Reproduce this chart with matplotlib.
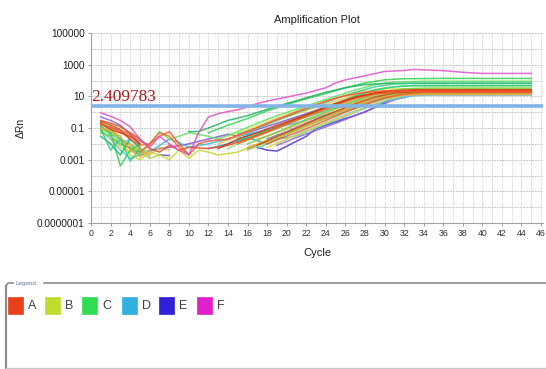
import numpy as np
import matplotlib
matplotlib.use("Agg")
import matplotlib.pyplot as plt
from matplotlib.patches import Rectangle

plt.rcParams['font.family'] = ['Liberation Sans', 'DejaVu Sans']

# ---------------- data ----------------
title = "Amplification Plot"
x_label = "Cycle"
y_label = "ΔRn"
threshold = 2.409783
threshold_label = "2.409783"
x_ticks = list(range(0, 47, 2))
y_ticks = [1e5, 1e3, 10, 0.1, 0.001, 1e-5, 1e-7]
y_tick_labels = ["100000", "1000", "10", "0.1", "0.001", "0.00001", "0.0000001"]
legend_labels = ["A", "B", "C", "D", "E", "F"]
legend_colors = ["#e8401a", "#c0dc30", "#30dc50", "#30b0e0", "#3020d8", "#e020c8"]

# each curve: list of (cycle, dRn); None marks a gap (negative values not drawn on log axis)
sample_A = [
    [(1, 0.3), (2, 0.2), (3, 0.12), (4, 0.05), (5, 0.02), (6, 0.005), (7, 0.003), (8, 0.008), (9, 0.004),
     (10, 0.006), (12, 0.005), (14, 0.008), (16, 0.02), (18, 0.06), (20, 0.2), (22, 0.6), (24, 1.8), (26, 5),
     (28, 12), (30, 20), (32, 23), (45, 24)],
    [(1, 0.15), (2, 0.12), (3, 0.06), (4, 0.02), (5, 0.008), (6, 0.01), (7, 0.05), (8, 0.03), (9, 0.006), (10, 0.002), None,
     (15, 0.01), (17, 0.03), (19, 0.09), (21, 0.3), (23, 0.9), (25, 2.5), (27, 7), (29, 14), (31, 19), (33, 21), (45, 21)],
    [(1, 0.2), (2, 0.08), (3, 0.05), (4, 0.03), (5, 0.01), None,
     (13, 0.005), (15, 0.02), (17, 0.05), (19, 0.15), (21, 0.4), (23, 1.2), (25, 3.5), (27, 9), (29, 16), (31, 22), (33, 26), (45, 26)],
    [(1, 0.1), (2, 0.07), (3, 0.03), (4, 0.004), (5, 0.0015), (6, 0.004), None,
     (16, 0.006), (18, 0.015), (20, 0.05), (22, 0.15), (24, 0.5), (26, 1.5), (28, 4), (30, 9), (32, 12), (34, 13), (45, 13)],
    [(1, 0.25), (2, 0.15), (3, 0.08), (4, 0.02), None,
     (17, 0.008), (19, 0.03), (21, 0.1), (23, 0.35), (25, 1.1), (27, 3.5), (29, 9), (31, 16), (33, 19), (45, 19)],
    [(5, 0.003), (6, 0.01), (7, 0.03), (8, 0.06), (9, 0.01), (10, 0.002), (11, 0.01), (12, 0.015),
     (14, 0.02), (16, 0.06), (18, 0.2), (20, 0.6), (22, 1.8), (24, 5), (26, 11), (28, 18), (30, 22), (45, 22)],
    [(1, 0.18), (2, 0.1), (3, 0.07), (4, 0.04), (5, 0.015), (6, 0.008), None,
     (18, 0.01), (20, 0.03), (22, 0.09), (24, 0.3), (26, 1), (28, 3), (30, 8), (32, 14), (34, 17), (45, 17)],
]
sample_A_colors = ["#e8481c", "#f07020", "#d83010", "#f4a040", "#c05018", "#ff5030", "#e86030"]

sample_B = [
    [(1, 0.08), (2, 0.05), (3, 0.02), (4, 0.002), (5, 0.001), (6, 0.003), (7, 0.002), (8, 0.001), (9, 0.004),
     (10, 0.0012), (11, 0.004), (12, 0.003), (13, 0.002),
     (15, 0.003), (17, 0.01), (19, 0.03), (21, 0.1), (23, 0.3), (25, 1), (27, 3), (29, 8), (31, 14), (33, 17), (45, 17)],
    [(1, 0.05), (2, 0.03), (3, 0.006), (4, 0.003), (5, 0.006), (6, 0.002), None,
     (18, 0.006), (20, 0.02), (22, 0.06), (24, 0.2), (26, 0.6), (28, 2), (30, 6), (32, 12), (34, 15), (45, 15)],
    [(13, 0.01), (15, 0.03), (17, 0.1), (19, 0.3), (21, 0.8), (23, 2), (25, 5), (27, 12), (29, 20), (31, 25), (45, 26)],
    [(1, 0.12), (2, 0.06), (3, 0.02), (4, 0.008), (5, 0.003), (6, 0.0012), (7, 0.002), None,
     (16, 0.004), (18, 0.012), (20, 0.04), (22, 0.12), (24, 0.4), (26, 1.2), (28, 3.5), (30, 9), (32, 15), (34, 18), (45, 18)],
    [(14, 0.03), (16, 0.08), (18, 0.25), (20, 0.7), (22, 2), (24, 5), (26, 12), (28, 22), (30, 30), (45, 31)],
    [(2, 0.02), (3, 0.008), (4, 0.01), (5, 0.004), (6, 0.002), (7, 0.006), (8, 0.004), None,
     (17, 0.02), (19, 0.05), (21, 0.15), (23, 0.5), (25, 1.5), (27, 4.5), (29, 11), (31, 18), (33, 21), (45, 21)],
]
sample_B_colors = ["#c8d828", "#e8d030", "#f0c040", "#b0d040", "#e0e060", "#f0b050"]

sample_C = [
    [(1, 0.12), (2, 0.05), (3, 0.0004), (4, 0.004), (5, 0.01), None,
     (12, 0.05), (14, 0.15), (16, 0.4), (18, 1.2), (20, 3), (22, 7), (24, 15), (26, 35), (28, 70), (30, 110), (32, 130), (36, 135), (45, 135)],
    [(1, 0.06), (2, 0.03), (3, 0.01), (4, 0.005), (5, 0.002), (6, 0.01), (7, 0.06), (8, 0.02), (9, 0.03),
     (10, 0.05), (11, 0.04), (12, 0.03),
     (13, 0.02), (15, 0.06), (17, 0.2), (19, 0.6), (21, 1.5), (23, 4), (25, 10), (27, 25), (29, 55), (31, 80), (34, 90), (45, 90)],
    [(1, 0.03), (2, 0.01), (3, 0.002), (4, 0.02), (5, 0.006), None,
     (10, 0.06), (11, 0.06), (12, 0.1), (14, 0.3), (16, 0.6), (18, 1.5), (20, 3.5), (22, 8), (24, 18), (26, 35), (28, 55), (30, 65), (45, 65)],
    [(14, 0.005), (16, 0.02), (18, 0.06), (20, 0.2), (22, 0.6), (24, 2), (26, 6), (28, 18), (30, 35), (32, 45), (45, 45)],
    [(15, 0.04), (17, 0.1), (19, 0.3), (21, 0.9), (23, 2.5), (25, 7), (27, 18), (29, 40), (31, 60), (33, 70), (45, 70)],
    [(1, 0.2), (2, 0.1), (3, 0.02), (4, 0.005), (5, 0.003), None,
     (16, 0.01), (18, 0.03), (20, 0.1), (22, 0.35), (24, 1), (26, 3), (28, 9), (30, 20), (32, 30), (34, 33), (45, 33)],
    [(1, 0.09), (2, 0.004), (3, 0.02), (4, 0.0008), (5, 0.005), None,
     (15, 0.015), (17, 0.04), (19, 0.12), (21, 0.4), (23, 1.2), (25, 3.5), (27, 10), (29, 25), (31, 40), (33, 48), (45, 48)],
]
sample_C_colors = ["#30d050", "#60e060", "#20b060", "#90e070", "#40c890", "#70d040", "#20d080"]

sample_D = [
    [(1, 0.1), (2, 0.04), (3, 0.02), (4, 0.01), (5, 0.004), (6, 0.003), (7, 0.008), (8, 0.02), (9, 0.012),
     (10, 0.006), (12, 0.01),
     (14, 0.02), (16, 0.04), (18, 0.08), (20, 0.15), (22, 0.3), (24, 0.7), (26, 1.6), (28, 3.5), (30, 7), (32, 11), (34, 13), (45, 14)],
    [(1, 0.07), (2, 0.02), (3, 0.004), (4, 0.0012), (5, 0.002), None,
     (17, 0.005), (19, 0.02), (21, 0.03), (23, 0.1), (25, 0.3), (27, 1), (29, 3), (31, 7), (33, 11), (35, 12), (45, 12)],
    [(12, 0.005), (14, 0.01), (16, 0.025), (18, 0.01), (20, 0.04), (22, 0.15), (24, 0.5), (26, 1.5), (28, 4), (30, 9), (32, 14), (45, 15)],
    [(1, 0.15), (2, 0.08), (3, 0.01), (4, 0.02), (5, 0.005), (6, 0.0015), None,
     (19, 0.01), (21, 0.04), (23, 0.12), (25, 0.4), (27, 1.2), (29, 3.5), (31, 8), (33, 12), (45, 13)],
    [(15, 0.02), (17, 0.05), (19, 0.12), (21, 0.3), (23, 0.8), (25, 2), (27, 5), (29, 11), (31, 16), (45, 17)],
]
sample_D_colors = ["#30b8e8", "#50c8d0", "#20a0d8", "#70d0e8", "#40c0b0"]

sample_E = [
    [(17, 0.006), (18, 0.004), (19, 0.0035), (20, 0.007), (22, 0.03), (23, 0.09), (24, 0.15), (26, 0.4), (28, 1), (30, 4), (31, 9), (32, 13), (34, 16), (45, 16)],
    [(7, 0.002), (8, 0.0018), None,
     (16, 0.005), (18, 0.015), (20, 0.05), (22, 0.15), (24, 0.4), (26, 1.1), (28, 3), (30, 8), (32, 14), (34, 17), (45, 17)],
    [(1, 0.05), (2, 0.03), (3, 0.01), (4, 0.006), (5, 0.002), (6, 0.004), (8, 0.006), (10, 0.01), (12, 0.02),
     (14, 0.04), (15, 0.03), (17, 0.08), (19, 0.2), (21, 0.5), (23, 1.3), (25, 3.5), (27, 8), (29, 14), (31, 18), (45, 19)],
    [(1, 0.5), (2, 0.3), (3, 0.15), (4, 0.04), (5, 0.01), None,
     (19, 0.008), (21, 0.025), (23, 0.07), (25, 0.2), (27, 0.6), (29, 2), (31, 6), (33, 12), (35, 15), (45, 15)],
    [(18, 0.02), (20, 0.06), (22, 0.2), (24, 0.6), (26, 1.8), (28, 5), (30, 11), (32, 16), (45, 17)],
]
sample_E_colors = ["#5030d0", "#6040e0", "#8050d0", "#9060d8", "#7060e8"]

sample_F = [
    [(1, 0.9), (2, 0.55), (3, 0.3), (4, 0.12), (5, 0.02), (6, 0.006), (7, 0.03), (8, 0.01), (9, 0.004), (10, 0.002),
     (11, 0.05), (12, 0.5), (13, 0.8), (14, 1.1), (15, 1.4), (16, 2.2), (17, 3.5), (18, 5), (20, 9), (22, 16),
     (24, 35), (25, 70), (26, 110), (28, 200), (30, 370), (32, 430), (33, 500), (34, 470), (36, 420), (38, 330),
     (40, 280), (45, 280)],
]
sample_F_colors = ["#e050c8"]

# ---------------- figure ----------------
W, H = 546, 369
fig = plt.figure(figsize=(W / 100, H / 100), dpi=100)
fig.patch.set_facecolor("white")

left, right, top, bottom = 91, 543, 33, 223
ax = fig.add_axes([left / W, 1 - bottom / H, (right - left) / W, (bottom - top) / H])
ax.set_yscale("log")
ax.set_xlim(0, 46.2)
ax.set_ylim(1e-7, 1e5)

# grid
for c in range(1, 47):
    ax.axvline(c, color="#cfcfcf", lw=0.7, ls=(0, (1, 1)), zorder=0)
for e in range(-7, 6):
    ax.axhline(10.0 ** e, color="#c8c8c8", lw=0.7, ls=(0, (2, 1)), zorder=0)


def to_xy(curve):
    xs, ys = [], []
    for p in curve:
        if p is None:
            xs.append(np.nan)
            ys.append(np.nan)
        else:
            xs.append(p[0])
            ys.append(p[1])
    return np.array(xs, float), np.array(ys, float)


for group, cols in [(sample_E, sample_E_colors), (sample_D, sample_D_colors), (sample_B, sample_B_colors),
                    (sample_C, sample_C_colors), (sample_A, sample_A_colors), (sample_F, sample_F_colors)]:
    for curve, col in zip(group, cols):
        xs, ys = to_xy(curve)
        ax.plot(xs, ys, color=col, lw=1.1, alpha=0.85, zorder=2)

# threshold
ax.axhline(threshold, color="#82b4e6", lw=2.6, zorder=3)
ax.text(0.05, threshold * 1.15, threshold_label, color="#a81c1c", fontsize=12.5,
        family=["Liberation Serif", "DejaVu Serif"], ha="left", va="bottom", zorder=4)

ax.set_xticks(x_ticks)
ax.set_xticklabels([str(t) for t in x_ticks], fontsize=6.3, color="#303030")
ax.set_yticks(y_ticks)
ax.set_yticklabels(y_tick_labels, fontsize=7.3, color="#202020")
ax.yaxis.set_minor_locator(matplotlib.ticker.NullLocator())
ax.tick_params(axis="both", length=2.5, width=0.6, color="#909090", pad=2)
for s in ["top", "right"]:
    ax.spines[s].set_visible(False)
for s in ["left", "bottom"]:
    ax.spines[s].set_color("#a0a0a0")
    ax.spines[s].set_linewidth(0.8)

ax.set_title(title, fontsize=8, color="#202020", pad=7)
ax.set_xlabel(x_label, fontsize=8, color="#202020", labelpad=7)
ax.set_ylabel(y_label, fontsize=7.5, color="#202020", labelpad=8)

# ---------------- legend panel (pixel coords overlay) ----------------
lg = fig.add_axes([0, 0, 1, 1])
lg.set_xlim(0, W)
lg.set_ylim(H, 0)
lg.axis("off")
lg.patch.set_alpha(0)

frame_col = "#8c8c8c"
lg.plot([6, 6], [286, 368], color=frame_col, lw=1.6)
lg.plot([6, 8, 13], [286, 283, 283], color=frame_col, lw=1.2)
lg.plot([44, W], [283, 283], color=frame_col, lw=1.2)
lg.plot([6, W], [367.5, 367.5], color="#c8c8c8", lw=1.0)
lg.text(16, 283, "Legend", fontsize=4.5, color="#5a78a0", va="center", ha="left")

sq_x = [8, 45, 82, 122, 159, 197]
for x0, lab, col in zip(sq_x, legend_labels, legend_colors):
    lg.add_patch(Rectangle((x0, 297), 15, 17, facecolor=col, edgecolor=col, lw=0.5))
    lg.text(x0 + 20, 306, lab, fontsize=9, color="#404040", va="center", ha="left")

fig.savefig("out.png", dpi=100, facecolor="white")
